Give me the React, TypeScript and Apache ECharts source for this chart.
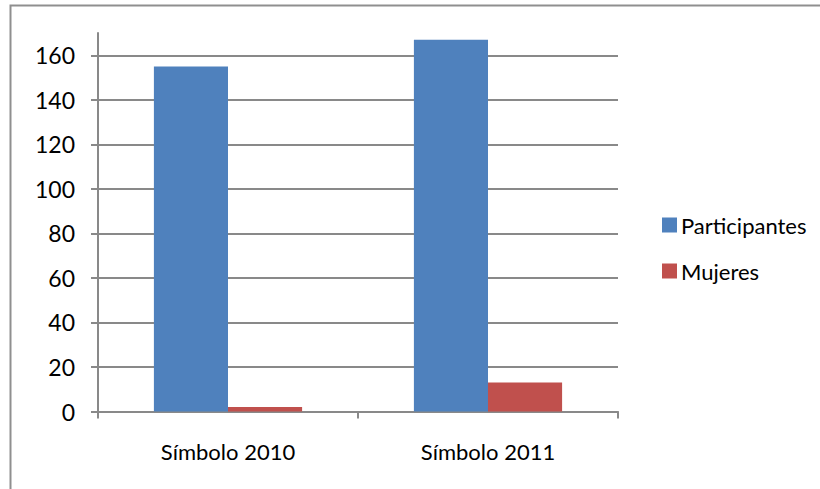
import React, { useEffect, useRef } from "react";
import * as echarts from "echarts";

const categories = ["Símbolo 2010", "Símbolo 2011"];
const participantes = [155, 167];
const mujeres = [2, 13];
const yTicks = [0, 20, 40, 60, 80, 100, 120, 140, 160];

const FONT = "Lato";
const AXIS_GRAY = "#898989";

export default function App() {
  const ref = useRef<HTMLDivElement>(null);
  useEffect(() => {
    if (!ref.current) return;
    const chart = echarts.init(ref.current, null, { renderer: "svg" });
    chart.setOption({
      animation: false,
      backgroundColor: "#ffffff",
      textStyle: { fontFamily: FONT },
      graphic: [
        {
          type: "rect",
          shape: { x: 10.5, y: 5.5, width: 830, height: 500 },
          style: { fill: "none", stroke: "#8f8f8f", lineWidth: 2 },
          silent: true,
        },
      ],
      legend: {
        orient: "vertical",
        left: 657,
        top: 209,
        itemWidth: 15,
        itemHeight: 15,
        itemGap: 24,
        icon: "rect",
        textStyle: { fontFamily: FONT, fontSize: 22, color: "#000", padding: [0, 0, 0, -1] },
        data: ["Participantes", "Mujeres"],
      },
      grid: { left: 98, right: 202, top: 33, bottom: 77.5, containLabel: false },
      xAxis: {
        type: "category",
        data: categories,
        axisLine: { show: true, lineStyle: { color: AXIS_GRAY, width: 2 } },
        axisTick: { show: true, length: 7, lineStyle: { color: AXIS_GRAY, width: 2 } },
        axisLabel: { color: "#000", fontFamily: FONT, fontSize: 22, margin: 29 },
        splitLine: { show: false },
      },
      yAxis: {
        type: "value",
        min: 0,
        max: 170,
        interval: 20,
        axisLine: { show: true, lineStyle: { color: AXIS_GRAY, width: 2 } },
        axisTick: { show: true, length: 7, customValues: yTicks, lineStyle: { color: AXIS_GRAY, width: 2 } },
        axisLabel: { color: "#000", fontFamily: FONT, fontSize: 23, margin: 23, customValues: yTicks },
        splitLine: { show: true, lineStyle: { color: AXIS_GRAY, width: 2 } },
      },
      series: [
        {
          name: "Participantes",
          type: "bar",
          data: participantes,
          barGap: "0%",
          barCategoryGap: "43%",
          itemStyle: { color: "#4F81BD" },
        },
        {
          name: "Mujeres",
          type: "bar",
          data: mujeres,
          barGap: "0%",
          barCategoryGap: "43%",
          itemStyle: { color: "#C0504D" },
        },
      ],
    });
    return () => chart.dispose();
  }, []);
  return (
    <div
      ref={ref}
      style={{ position: "fixed", left: 0, top: 0, width: 820, height: 489 }}
    />
  );
}
